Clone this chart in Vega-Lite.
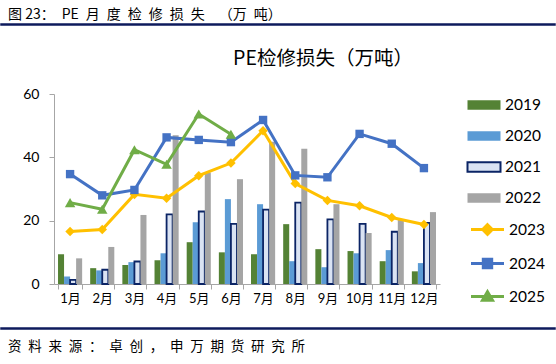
{
  "$schema": "https://vega.github.io/schema/vega-lite/v6.json",
  "padding": {"top": 6, "left": 0, "right": 0, "bottom": 0},
  "background": "white",
  "columns": 1,
  "align": "none",
  "spacing": 17,
  "resolve": {"scale": {"color": "independent", "fill": "independent", "stroke": "independent", "shape": "independent"}, "legend": {"color": "independent", "fill": "independent", "stroke": "independent", "shape": "independent"}},
  "config": {
    "view": {"stroke": null},
    "font": "Noto Sans CJK SC",
    "title": {"fontWeight": "normal", "color": "#000000", "font": "Noto Sans CJK SC"},
    "legend": {"title": null, "orient": "right", "labelFontSize": 15.5, "labelFont": "Lato", "labelColor": "#000000", "labelOffset": 10, "symbolSize": 400, "rowPadding": 11}
  },
  "datasets": {
    "bars": [
      {"month": "1月", "year": "2019", "value": 9.4},
      {"month": "2月", "year": "2019", "value": 5.0},
      {"month": "3月", "year": "2019", "value": 6.0},
      {"month": "4月", "year": "2019", "value": 7.5},
      {"month": "5月", "year": "2019", "value": 13.2},
      {"month": "6月", "year": "2019", "value": 10.0},
      {"month": "7月", "year": "2019", "value": 9.4},
      {"month": "8月", "year": "2019", "value": 18.9},
      {"month": "9月", "year": "2019", "value": 11.0},
      {"month": "10月", "year": "2019", "value": 10.4},
      {"month": "11月", "year": "2019", "value": 7.2},
      {"month": "12月", "year": "2019", "value": 4.0},
      {"month": "1月", "year": "2020", "value": 2.4},
      {"month": "2月", "year": "2020", "value": 4.3},
      {"month": "3月", "year": "2020", "value": 6.9},
      {"month": "4月", "year": "2020", "value": 9.7},
      {"month": "5月", "year": "2020", "value": 19.5},
      {"month": "6月", "year": "2020", "value": 26.8},
      {"month": "7月", "year": "2020", "value": 25.2},
      {"month": "8月", "year": "2020", "value": 7.2},
      {"month": "9月", "year": "2020", "value": 5.3},
      {"month": "10月", "year": "2020", "value": 9.7},
      {"month": "11月", "year": "2020", "value": 10.7},
      {"month": "12月", "year": "2020", "value": 6.6},
      {"month": "1月", "year": "2021", "value": 1.3},
      {"month": "2月", "year": "2021", "value": 4.5},
      {"month": "3月", "year": "2021", "value": 7.1},
      {"month": "4月", "year": "2021", "value": 22.0},
      {"month": "5月", "year": "2021", "value": 22.9},
      {"month": "6月", "year": "2021", "value": 19.0},
      {"month": "7月", "year": "2021", "value": 23.5},
      {"month": "8月", "year": "2021", "value": 25.7},
      {"month": "9月", "year": "2021", "value": 20.4},
      {"month": "10月", "year": "2021", "value": 19.0},
      {"month": "11月", "year": "2021", "value": 16.5},
      {"month": "12月", "year": "2021", "value": 19.3},
      {"month": "1月", "year": "2022", "value": 8.1},
      {"month": "2月", "year": "2022", "value": 11.7},
      {"month": "3月", "year": "2022", "value": 21.8},
      {"month": "4月", "year": "2022", "value": 47.0},
      {"month": "5月", "year": "2022", "value": 35.2},
      {"month": "6月", "year": "2022", "value": 33.1},
      {"month": "7月", "year": "2022", "value": 44.9},
      {"month": "8月", "year": "2022", "value": 42.7},
      {"month": "9月", "year": "2022", "value": 25.2},
      {"month": "10月", "year": "2022", "value": 16.1},
      {"month": "11月", "year": "2022", "value": 20.4},
      {"month": "12月", "year": "2022", "value": 22.7}
    ],
    "lines": [
      {"month": "1月", "year": "2023", "value": 16.6},
      {"month": "2月", "year": "2023", "value": 17.2},
      {"month": "3月", "year": "2023", "value": 28.3},
      {"month": "4月", "year": "2023", "value": 27.1},
      {"month": "5月", "year": "2023", "value": 34.2},
      {"month": "6月", "year": "2023", "value": 38.2},
      {"month": "7月", "year": "2023", "value": 48.4},
      {"month": "8月", "year": "2023", "value": 31.7},
      {"month": "9月", "year": "2023", "value": 26.4},
      {"month": "10月", "year": "2023", "value": 24.7},
      {"month": "11月", "year": "2023", "value": 21.0},
      {"month": "12月", "year": "2023", "value": 18.8},
      {"month": "1月", "year": "2024", "value": 34.7},
      {"month": "2月", "year": "2024", "value": 28.0},
      {"month": "3月", "year": "2024", "value": 29.7},
      {"month": "4月", "year": "2024", "value": 46.3},
      {"month": "5月", "year": "2024", "value": 45.5},
      {"month": "6月", "year": "2024", "value": 44.8},
      {"month": "7月", "year": "2024", "value": 51.8},
      {"month": "8月", "year": "2024", "value": 34.3},
      {"month": "9月", "year": "2024", "value": 33.7},
      {"month": "10月", "year": "2024", "value": 47.4},
      {"month": "11月", "year": "2024", "value": 44.3},
      {"month": "12月", "year": "2024", "value": 36.6},
      {"month": "1月", "year": "2025", "value": 25.7},
      {"month": "2月", "year": "2025", "value": 23.6},
      {"month": "3月", "year": "2025", "value": 42.4},
      {"month": "4月", "year": "2025", "value": 37.8},
      {"month": "5月", "year": "2025", "value": 53.7},
      {"month": "6月", "year": "2025", "value": 47.3}
    ]
  },
  "concat": [
    {
      "width": 554,
      "height": 1,
      "view": {"stroke": "#0D1A5C", "strokeWidth": 1.5},
      "title": {"text": "图 23：\u2002PE\u2002月\u2002度\u2002检\u2002修\u2002损\u2002失\u2002\u2002（万\u2002吨）", "anchor": "start", "fontSize": 14, "offset": -3, "dx": 7},
      "data": {"values": [{}]},
      "mark": {"type": "text"},
      "encoding": {"text": {"value": ""}}
    },
    {
      "spacing": 11,
      "resolve": {"scale": {"color": "independent", "fill": "independent", "stroke": "independent", "shape": "independent"}, "legend": {"color": "independent", "fill": "independent", "stroke": "independent", "shape": "independent"}},
      "vconcat": [
        {
          "spacing": 0,
          "resolve": {"scale": {"color": "independent", "fill": "independent", "stroke": "independent", "shape": "independent"}, "legend": {"color": "independent", "fill": "independent", "stroke": "independent", "shape": "independent"}},
          "hconcat": [
            {
              "width": 1,
              "height": 1,
              "data": {"values": [{}]},
              "mark": {"type": "text"},
              "encoding": {"text": {"value": ""}}
            },
            {
              "width": 386,
              "height": 190,
              "title": {"text": "PE检修损失（万吨）", "anchor": "middle", "fontSize": 19.5, "offset": 18, "dx": 76},
              "resolve": {"scale": {"color": "independent", "fill": "independent", "stroke": "independent", "shape": "independent"}},
              "layer": [
                {
                  "data": {"name": "bars"},
                  "mark": {"type": "bar", "strokeWidth": 1.8},
                  "encoding": {
                    "x": {
                      "field": "month", "type": "nominal",
                      "sort": ["1月","2月","3月","4月","5月","6月","7月","8月","9月","10月","11月","12月"],
                      "scale": {"paddingInner": 0.25, "paddingOuter": 0.125},
                      "axis": {"title": null, "labelAngle": 0, "tickBand": "extent", "domainColor": "#A6A6A6", "tickColor": "#A6A6A6", "tickSize": 5, "labelFontSize": 13, "labelFont": "Lato, Noto Sans CJK SC", "labelColor": "#000000", "labelPadding": 3, "minExtent": 26}
                    },
                    "xOffset": {"field": "year", "type": "nominal", "sort": ["2019","2020","2021","2022"], "scale": {"paddingInner": 0}},
                    "y": {
                      "field": "value", "type": "quantitative",
                      "scale": {"domain": [0, 60], "nice": false},
                      "axis": {"title": null, "values": [0,10,20,30,40,50,60], "grid": false, "domainColor": "#A6A6A6", "tickColor": "#A6A6A6", "tickSize": 5, "labelFontSize": 14, "labelFont": "Lato", "labelColor": "#000000", "labelPadding": 10, "minExtent": 52}
                    },
                    "fill": {
                      "field": "year", "type": "nominal",
                      "scale": {"domain": ["2019","2020","2021","2022"], "range": ["#548235","#5B9BD5","#DAE3F3","#A5A5A5"]},
                      "legend": {"offset": 33, "padding": 0, "symbolType": "M-1.65,-0.48H1.65V0.48H-1.65Z", "symbolStrokeWidth": 2}
                    },
                    "stroke": {
                      "field": "year", "type": "nominal",
                      "scale": {"domain": ["2019","2020","2021","2022"], "range": ["transparent","transparent","#0B2465","transparent"]},
                      "legend": {"offset": 33, "padding": 0, "symbolType": "M-1.65,-0.48H1.65V0.48H-1.65Z", "symbolStrokeWidth": 2}
                    }
                  }
                },
                {
                  "data": {"name": "lines"},
                  "mark": {"type": "line", "strokeWidth": 3},
                  "encoding": {
                    "x": {"field": "month", "type": "nominal", "sort": ["1月","2月","3月","4月","5月","6月","7月","8月","9月","10月","11月","12月"]},
                    "y": {"field": "value", "type": "quantitative"},
                    "color": {"field": "year", "type": "nominal", "scale": {"domain": ["2023","2024","2025"], "range": ["#FFC000","#4472C4","#70AD47"]}, "legend": null}
                  }
                },
                {
                  "data": {"name": "lines"},
                  "mark": {"type": "point", "filled": true, "opacity": 1},
                  "encoding": {
                    "x": {"field": "month", "type": "nominal", "sort": ["1月","2月","3月","4月","5月","6月","7月","8月","9月","10月","11月","12月"]},
                    "y": {"field": "value", "type": "quantitative"},
                    "color": {"field": "year", "type": "nominal", "scale": {"domain": ["2023","2024","2025"], "range": ["#FFC000","#4472C4","#70AD47"]}, "legend": null},
                    "shape": {"condition": [{"test": "datum.year=='2023'", "value": "diamond"}, {"test": "datum.year=='2024'", "value": "square"}], "value": "triangle-up"},
                    "size": {"condition": [{"test": "datum.year=='2023'", "value": 90}, {"test": "datum.year=='2024'", "value": 70}], "value": 110}
                  }
                },
                {
                  "data": {"name": "lines"},
                  "mark": {"type": "point", "size": 0, "strokeWidth": 3, "opacity": 1},
                  "encoding": {
                    "x": {"field": "month", "type": "nominal", "sort": ["1月","2月","3月","4月","5月","6月","7月","8月","9月","10月","11月","12月"]},
                    "y": {"field": "value", "type": "quantitative"},
                    "fill": {"field": "year", "type": "nominal", "scale": {"domain": ["2023","2024","2025"], "range": ["#FFC000","#4472C4","#70AD47"]},
                      "legend": {"offset": 30, "padding": 3, "symbolStrokeWidth": 3, "symbolOpacity": 1}},
                    "stroke": {"field": "year", "type": "nominal", "scale": {"domain": ["2023","2024","2025"], "range": ["#FFC000","#4472C4","#70AD47"]},
                      "legend": {"offset": 30, "padding": 3, "symbolStrokeWidth": 3, "symbolOpacity": 1}},
                    "shape": {"field": "year", "type": "nominal",
                      "scale": {"domain": ["2023","2024","2025"], "range": ["M-1.65,0H1.65M0,-0.48L0.48,0L0,0.48L-0.48,0Z", "M-1.65,0H1.65M-0.42,-0.42H0.42V0.42H-0.42Z", "M-1.65,0H1.65M0,-0.48L0.5,0.38H-0.5Z"]},
                      "legend": {"offset": 30, "padding": 3, "symbolStrokeWidth": 3, "symbolOpacity": 1}}
                  }
                }
              ]
            }
          ]
        },
        {
          "width": 554,
          "height": 1,
          "view": {"stroke": "#0D1A5C", "strokeWidth": 1.5},
          "title": {"text": "资\u2002料\u2002来\u2002源\u2002：\u2002卓\u2002创\u2002，\u2002申\u2002万\u2002期\u2002货\u2002研\u2002究\u2002所", "orient": "bottom", "anchor": "start", "fontSize": 13.5, "offset": 6, "dx": 7},
          "data": {"values": [{}]},
          "mark": {"type": "text"},
          "encoding": {"text": {"value": ""}}
        }
      ]
    }
  ]
}
